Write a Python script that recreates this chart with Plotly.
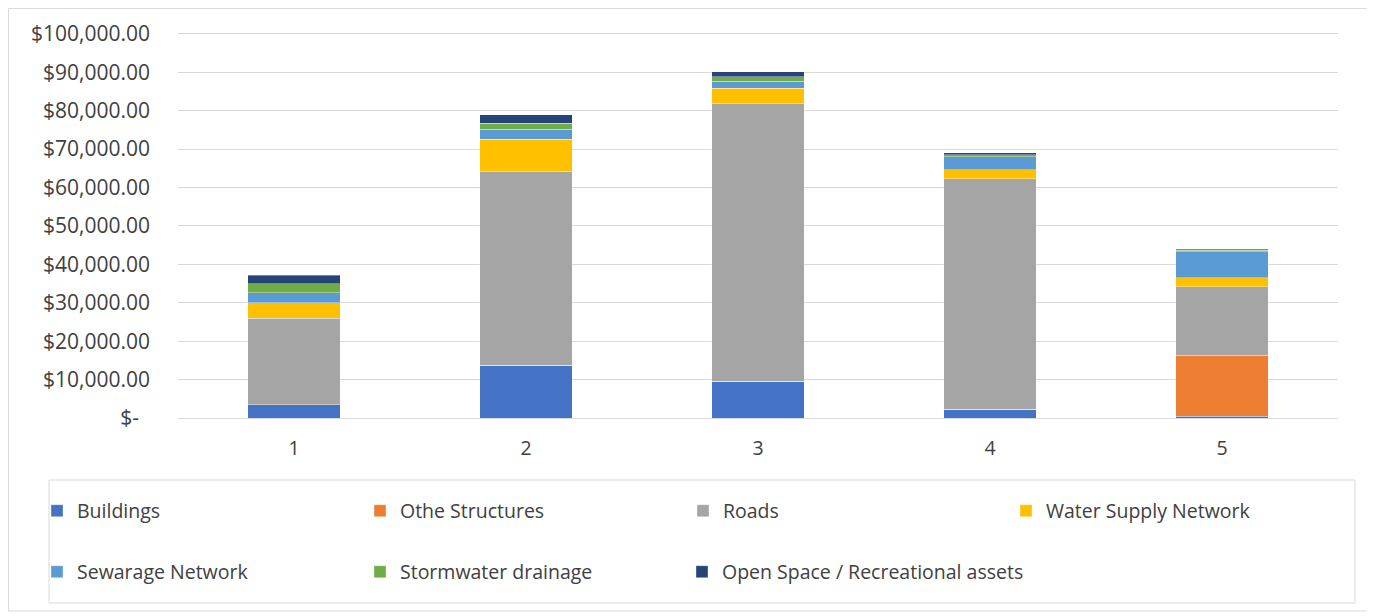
import plotly.graph_objects as go

categories = ["1", "2", "3", "4", "5"]
buildings = [3400, 13800, 9600, 2300, 500]
other_structures = [0, 0, 0, 0, 15900]
roads = [22600, 50400, 72250, 60000, 17800]
water_supply = [4000, 8400, 4050, 2300, 2300]
sewerage = [2600, 2600, 1800, 3400, 6800]
stormwater = [2300, 1600, 1100, 500, 400]
open_space = [2300, 2100, 1300, 500, 250]

series_names = ["Buildings", "Othe Structures", "Roads", "Water Supply Network",
                "Sewarage Network", "Stormwater drainage", "Open Space / Recreational assets"]
series_values = [buildings, other_structures, roads, water_supply, sewerage, stormwater, open_space]
colors = ["#4472C4", "#ED7D31", "#A5A5A5", "#FFC000", "#5B9BD5", "#70AD47", "#264478"]
legend_ids = ["legend", "legend", "legend", "legend", "legend2", "legend2", "legend3"]

tick_vals = [0, 10000, 20000, 30000, 40000, 50000, 60000, 70000, 80000, 90000, 100000]
tick_text = ["$-\u00a0\u00a0", "$10,000.00", "$20,000.00", "$30,000.00", "$40,000.00",
             "$50,000.00", "$60,000.00", "$70,000.00", "$80,000.00", "$90,000.00", "$100,000.00"]
y_max = 100500

# page body has an 8px margin; work in screen coordinates and convert
OFF = 8
W, H = 1375 - OFF, 616 - OFF
px_per_unit = 384 / 100000
plot_left, plot_right, plot_bottom = 178, 1338, 418  # screen px
plot_top = plot_bottom - y_max * px_per_unit
L = plot_left - OFF
T = plot_top - OFF
R = W - (plot_right - OFF)
B = H - (plot_bottom - OFF)
pw, ph = W - L - R, H - T - B

def px_x(p):
    return (p - OFF - L) / pw

def px_y(p):
    return (H - B - (p - OFF)) / ph

fig = go.Figure()
for name, vals, c, lg in zip(series_names, series_values, colors, legend_ids):
    fig.add_trace(go.Bar(x=categories, y=vals, name=name, marker_color=c,
                         marker_line_color="rgba(255,255,255,0.6)", marker_line_width=0.6,
                         legend=lg))

font_family = "Open Sans, Noto Sans, sans-serif"
legend_common = dict(orientation="h", xanchor="left", yanchor="middle",
                     font=dict(family=font_family, size=19.5, color="#404040"),
                     bgcolor="rgba(0,0,0,0)", entrywidth=278, entrywidthmode="pixels",
                     traceorder="normal")
legend_single = dict(orientation="h", xanchor="left", yanchor="middle",
                     font=dict(family=font_family, size=19.5, color="#404040"),
                     bgcolor="rgba(0,0,0,0)", traceorder="normal")

fig.update_layout(
    width=W, height=H,
    margin=dict(l=L, r=R, t=T, b=B, autoexpand=False),
    barmode="stack", bargap=0.6,
    plot_bgcolor="white", paper_bgcolor="white",
    font=dict(family=font_family, size=19.5, color="#404040"),
    xaxis=dict(showgrid=False, showline=False, ticks="", ticklabelstandoff=16,
               tickfont=dict(size=19.5, color="#404040")),
    yaxis=dict(range=[0, y_max], tickvals=tick_vals, ticktext=tick_text,
               gridcolor="#D9D9D9", gridwidth=1, zeroline=True, zerolinecolor="#D9D9D9",
               zerolinewidth=1, showline=False, ticks="", ticklen=0, ticklabelstandoff=27,
               tickfont=dict(size=21, color="#404040")),
    legend=dict(x=px_x(37), y=px_y(511), **legend_common),
    legend2=dict(x=px_x(37), y=px_y(572), **legend_common),
    legend3=dict(x=px_x(682), y=px_y(572), **legend_single),
    shapes=[
        dict(type="rect", xref="paper", yref="paper", x0=px_x(49), x1=px_x(1355),
             y0=px_y(603), y1=px_y(480), line=dict(color="#D9D9D9", width=1), layer="below"),
        dict(type="rect", xref="paper", yref="paper", x0=px_x(8.5), x1=px_x(1370),
             y0=px_y(611), y1=px_y(8.5), line=dict(color="#D9D9D9", width=1), layer="below"),
    ],
)

fig.write_html("out.html")
